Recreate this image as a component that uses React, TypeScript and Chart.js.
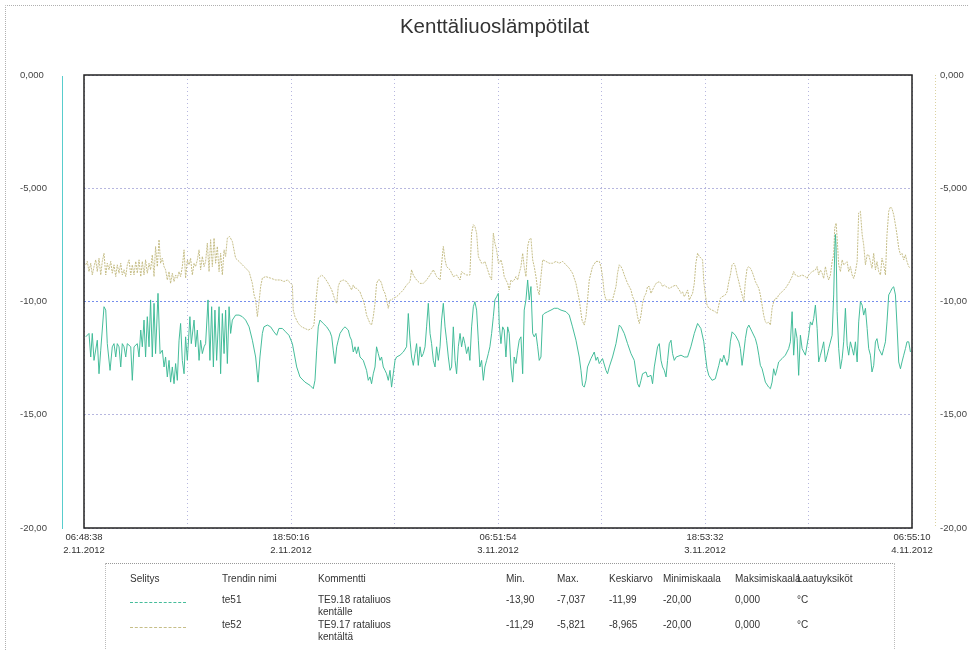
import React, { useEffect, useRef } from 'react';
import { Chart, registerables } from 'chart.js';

Chart.register(...registerables);

const chartTitle = 'Kenttäliuoslämpötilat';

// x axis: hours since 06:48:38 2.11.2012
const xMaxHours = 48;
const xGridHours = [0, 6, 12, 18, 24, 30, 36, 42, 48];
const xLabelHours = [0, 12, 24, 36, 48];
const xTickLabels = [
  ['06:48:38', '2.11.2012'],
  ['18:50:16', '2.11.2012'],
  ['06:51:54', '3.11.2012'],
  ['18:53:32', '3.11.2012'],
  ['06:55:10', '4.11.2012'],
];

const yTickValues = [0, -5, -10, -15, -20];
const yTickLabels = ['0,000', '-5,000', '-10,00', '-15,00', '-20,00'];

// te51 : [hour, °C]
const te51Points: [number, number][] = [
  [0.10, -11.56], [0.29, -11.41], [0.39, -12.45], [0.48, -11.41], [0.58, -12.60], [0.77, -11.71], [0.87, -13.19], [0.97, -12.15],
  [1.16, -10.23], [1.26, -10.38], [1.35, -11.86], [1.51, -13.04], [1.64, -12.00], [1.74, -11.86], [1.84, -12.45], [1.93, -11.86],
  [2.03, -12.00], [2.13, -12.89], [2.22, -11.86], [2.32, -12.00], [2.42, -12.45], [2.51, -11.86], [2.71, -12.00], [2.80, -13.48],
  [2.90, -12.00], [3.09, -11.86], [3.19, -12.45], [3.29, -11.26], [3.38, -12.00], [3.48, -10.82], [3.57, -12.45], [3.67, -10.67],
  [3.77, -12.00], [3.86, -9.93], [3.96, -12.45], [4.06, -10.08], [4.15, -12.30], [4.29, -9.64], [4.41, -12.30], [4.54, -12.15],
  [4.64, -12.89], [4.73, -12.45], [4.83, -13.33], [4.93, -12.60], [5.02, -13.56], [5.12, -12.89], [5.22, -13.63], [5.31, -12.74],
  [5.41, -13.48], [5.51, -11.71], [5.60, -10.97], [5.70, -12.60], [5.80, -13.19], [5.89, -11.56], [5.99, -12.60], [6.14, -10.67],
  [6.22, -11.86], [6.38, -10.82], [6.47, -12.00], [6.57, -11.26], [6.67, -12.60], [6.76, -11.71], [6.86, -12.30], [6.96, -12.00],
  [7.05, -11.86], [7.19, -9.93], [7.30, -12.60], [7.40, -10.23], [7.50, -12.89], [7.59, -10.38], [7.69, -12.60], [7.83, -10.23],
  [7.92, -13.19], [8.02, -10.53], [8.12, -12.30], [8.21, -10.38], [8.31, -12.74], [8.41, -10.23], [8.50, -11.41], [8.60, -10.82],
  [8.79, -10.60], [8.99, -10.60], [9.18, -10.67], [9.37, -10.82], [9.57, -11.12], [9.76, -11.71], [9.95, -12.45], [10.09, -13.56],
  [10.20, -12.45], [10.34, -11.41], [10.43, -11.12], [10.63, -11.04], [10.82, -11.12], [11.01, -11.34], [11.17, -11.49], [11.30, -11.19],
  [11.50, -11.19], [11.69, -11.34], [11.88, -11.49], [12.08, -11.86],
  [12.33, -12.89], [12.52, -13.33], [12.81, -13.56], [13.10, -13.70], [13.29, -13.85], [13.39, -13.48], [13.49, -12.15], [13.58, -11.12],
  [13.68, -10.82], [13.87, -10.97], [14.07, -11.12], [14.26, -11.34], [14.36, -11.56], [14.45, -12.15], [14.55, -12.74], [14.65, -12.00],
  [14.74, -11.71], [14.84, -11.41], [15.03, -11.19], [15.13, -11.12], [15.32, -11.26], [15.42, -11.56], [15.51, -11.71], [15.61, -12.23],
  [15.71, -12.00], [15.80, -12.30], [15.90, -12.00], [16.00, -12.45], [16.19, -12.60], [16.38, -13.04], [16.48, -13.48], [16.58, -13.33],
  [16.67, -13.63], [16.77, -13.19], [16.87, -12.89], [16.96, -12.00], [17.06, -12.30], [17.16, -12.60], [17.25, -12.45], [17.35, -12.89],
  [17.45, -13.04], [17.54, -13.19], [17.64, -13.48], [17.74, -13.04], [17.83, -13.78], [17.93, -13.19], [18.03, -12.60], [18.12, -12.45],
  [18.32, -12.37], [18.51, -12.23], [18.70, -12.00], [18.80, -10.53], [18.90, -11.71], [18.99, -12.45], [19.09, -12.82], [19.19, -12.30],
  [19.28, -11.86], [19.38, -12.82], [19.48, -12.00], [19.57, -12.45], [19.67, -12.30], [19.77, -12.00], [19.86, -11.12], [19.96, -10.08],
  [20.06, -11.41], [20.15, -11.86], [20.25, -12.60], [20.35, -12.89], [20.44, -12.00], [20.54, -12.60], [20.64, -12.00], [20.73, -10.82],
  [20.83, -10.08], [20.93, -11.12], [21.02, -11.71], [21.12, -12.45], [21.22, -13.04], [21.31, -12.89], [21.41, -11.12], [21.51, -12.60],
  [21.60, -13.19], [21.70, -12.00], [21.80, -11.41], [21.89, -12.00], [21.99, -11.56], [22.08, -11.86], [22.18, -12.30], [22.28, -12.00],
  [22.37, -12.60], [22.47, -11.12], [22.57, -10.23], [22.66, -10.01], [22.76, -10.38], [22.86, -11.71], [22.95, -12.89], [23.05, -12.60],
  [23.15, -13.48], [23.24, -12.89], [23.34, -12.60], [23.44, -12.30], [23.53, -12.00], [23.63, -11.41], [23.73, -10.67], [23.82, -9.93],
  [23.92, -9.79], [24.02, -9.64],
  [24.07, -10.97], [24.17, -11.86], [24.27, -11.12], [24.36, -11.26], [24.46, -12.45], [24.56, -11.12], [24.65, -11.41], [24.75, -12.89],
  [24.85, -13.56], [24.94, -12.45], [25.04, -12.74], [25.14, -12.15], [25.23, -11.71], [25.33, -11.56], [25.43, -13.19], [25.52, -10.38],
  [25.62, -9.93], [25.72, -9.05], [25.81, -9.93], [25.91, -9.34], [26.01, -11.41], [26.10, -11.56], [26.20, -11.41], [26.30, -12.00],
  [26.39, -12.60], [26.49, -12.45], [26.59, -10.60], [26.68, -10.53], [26.88, -10.45], [27.07, -10.38], [27.26, -10.30], [27.45, -10.30],
  [27.65, -10.38], [27.94, -10.45], [28.13, -10.60], [28.32, -11.12], [28.52, -11.71], [28.71, -12.45], [28.81, -13.04], [28.90, -13.70],
  [29.00, -13.78], [29.10, -13.48], [29.19, -12.89], [29.39, -12.52], [29.58, -12.23], [29.68, -12.60], [29.77, -12.45], [29.87, -12.74],
  [30.06, -12.52], [30.26, -13.04], [30.35, -13.19], [30.45, -12.89], [30.64, -12.45], [30.84, -11.86], [31.03, -11.04], [31.13, -11.12],
  [31.32, -11.41], [31.51, -11.86], [31.71, -12.30], [31.90, -12.60], [32.09, -13.63], [32.19, -13.78], [32.29, -13.48], [32.38, -13.19],
  [32.58, -13.11], [32.67, -13.33], [32.87, -13.26], [32.96, -13.63], [33.06, -12.89], [33.25, -12.00], [33.35, -11.86], [33.45, -12.60],
  [33.54, -12.89], [33.64, -13.04], [33.74, -13.33], [33.83, -12.60], [33.93, -11.86], [34.03, -11.71], [34.12, -12.30], [34.22, -12.60],
  [34.33, -12.45], [34.61, -12.37], [34.80, -12.45], [34.99, -12.45], [35.18, -12.00], [35.38, -11.41], [35.57, -10.97], [35.76, -11.19],
  [35.93, -11.78], [36.02, -12.37], [36.12, -12.97], [36.22, -13.26], [36.41, -13.48], [36.60, -13.41], [36.70, -13.11], [36.80, -12.82],
  [36.89, -12.52], [36.99, -12.67], [37.09, -12.37], [37.18, -12.59], [37.28, -12.82], [37.38, -12.52], [37.47, -11.78], [37.57, -11.34],
  [37.76, -11.49], [37.96, -11.78], [38.05, -12.08], [38.15, -12.82], [38.25, -12.23], [38.34, -11.64], [38.44, -11.19], [38.54, -11.04],
  [38.73, -11.34], [38.92, -11.64], [39.02, -11.93], [39.12, -12.37], [39.21, -12.82], [39.31, -12.97], [39.50, -13.56], [39.69, -13.78],
  [39.79, -13.85], [39.89, -13.56], [39.98, -12.97], [40.08, -13.26], [40.18, -12.97], [40.27, -12.67], [40.47, -12.52], [40.66, -12.37],
  [40.85, -12.08], [40.95, -11.78], [41.05, -10.45], [41.14, -12.37], [41.24, -11.19], [41.34, -11.64], [41.43, -13.26], [41.53, -11.49],
  [41.63, -12.08], [41.82, -12.37], [42.01, -11.49], [42.11, -10.90], [42.21, -11.04], [42.30, -10.75], [42.40, -10.16], [42.50, -11.19],
  [42.59, -12.67], [42.69, -12.37], [42.79, -12.08], [42.88, -11.78], [42.98, -12.67], [43.08, -12.37], [43.17, -12.08], [43.37, -11.49],
  [43.46, -9.71], [43.52, -7.80], [43.56, -7.04], [43.60, -7.60], [43.66, -10.45], [43.75, -12.08], [43.85, -12.97], [43.95, -12.52],
  [44.04, -11.78], [44.14, -10.30], [44.24, -11.93], [44.33, -12.37], [44.43, -11.78], [44.53, -12.08], [44.62, -12.37], [44.72, -11.78],
  [44.82, -12.67], [44.91, -10.90], [45.01, -10.01], [45.11, -10.16], [45.20, -10.60], [45.30, -10.30], [45.40, -11.19], [45.49, -12.08],
  [45.59, -12.37], [45.68, -13.11], [45.78, -12.82], [45.88, -11.78], [45.97, -11.64], [46.07, -12.08], [46.26, -12.37], [46.36, -12.08],
  [46.46, -11.78], [46.55, -10.90], [46.65, -9.71], [46.75, -9.57], [46.84, -9.42], [46.94, -9.35], [47.04, -9.71], [47.13, -11.04],
  [47.23, -12.67], [47.33, -12.97], [47.42, -12.67], [47.52, -12.37], [47.62, -12.08], [47.71, -11.78], [47.81, -11.78], [47.91, -12.23],
];

// te52 : [hour, °C]
const te52Points: [number, number][] = [
  [0.10, -8.38], [0.19, -8.23], [0.29, -8.68], [0.39, -8.31], [0.48, -8.83], [0.58, -8.46], [0.68, -8.16], [0.77, -8.68],
  [0.87, -8.09], [0.97, -8.83], [1.06, -8.23], [1.16, -7.87], [1.26, -8.83], [1.35, -8.31], [1.45, -8.60], [1.55, -8.23],
  [1.64, -8.75], [1.74, -8.38], [1.84, -8.90], [1.93, -8.38], [2.03, -8.75], [2.13, -8.31], [2.22, -8.83], [2.32, -8.60],
  [2.42, -8.90], [2.51, -8.38], [2.61, -8.16], [2.71, -8.83], [2.80, -8.38], [2.90, -8.83], [3.00, -8.23], [3.09, -8.75],
  [3.19, -8.16], [3.29, -8.90], [3.38, -8.23], [3.48, -8.83], [3.57, -8.16], [3.67, -8.75], [3.77, -8.31], [3.86, -8.60],
  [3.96, -7.94], [4.06, -8.90], [4.15, -7.57], [4.25, -8.46], [4.35, -7.27], [4.44, -8.31], [4.54, -8.09], [4.64, -8.46],
  [4.73, -8.60], [4.83, -9.05], [4.93, -8.68], [5.02, -9.20], [5.12, -8.75], [5.22, -9.12], [5.31, -8.83], [5.41, -8.97],
  [5.51, -8.68], [5.60, -8.90], [5.70, -8.46], [5.80, -7.72], [5.89, -8.97], [5.99, -8.16], [6.09, -8.38], [6.18, -8.09],
  [6.28, -8.83], [6.38, -8.31], [6.47, -8.46], [6.57, -8.16], [6.67, -7.72], [6.76, -8.60], [6.86, -8.01], [6.96, -8.46],
  [7.05, -8.23], [7.15, -7.42], [7.25, -8.68], [7.34, -7.27], [7.44, -8.46], [7.54, -7.20], [7.63, -8.31], [7.73, -7.57],
  [7.83, -8.68], [7.92, -7.87], [8.02, -8.83], [8.12, -7.72], [8.21, -8.01], [8.31, -7.20], [8.44, -7.13], [8.60, -7.35],
  [8.79, -8.09], [8.99, -8.23], [9.28, -8.46], [9.57, -8.68], [9.76, -9.20], [9.86, -9.71], [9.95, -9.93], [10.05, -10.67],
  [10.14, -10.08], [10.24, -9.34], [10.34, -8.97], [10.53, -8.90], [10.82, -8.97], [11.11, -9.05], [11.40, -9.05], [11.59, -9.12],
  [11.79, -9.05], [12.08, -9.27],
  [12.13, -10.38], [12.23, -10.67], [12.42, -10.97], [12.62, -11.12], [12.81, -11.19], [13.00, -11.26], [13.20, -11.19], [13.33, -11.04],
  [13.45, -9.93], [13.58, -8.97], [13.78, -8.83], [13.97, -8.97], [14.16, -9.20], [14.36, -9.49], [14.55, -9.93], [14.65, -10.08],
  [14.74, -9.34], [14.84, -9.12], [15.03, -9.05], [15.23, -9.12], [15.42, -9.34], [15.51, -9.49], [15.61, -9.27], [15.71, -9.42],
  [15.80, -9.42], [16.00, -9.57], [16.10, -9.79], [16.19, -9.93], [16.29, -10.23], [16.38, -10.60], [16.58, -10.97], [16.67, -11.04],
  [16.77, -10.67], [16.87, -10.08], [16.96, -9.20], [17.06, -9.05], [17.16, -9.05], [17.25, -9.20], [17.35, -9.49], [17.45, -9.64],
  [17.54, -9.93], [17.64, -10.30], [17.74, -9.93], [17.83, -9.93], [17.93, -9.86], [18.12, -9.79], [18.32, -9.64], [18.51, -9.49],
  [18.70, -9.27], [18.90, -9.12], [18.99, -8.60], [19.09, -8.83], [19.28, -9.05], [19.48, -9.20], [19.67, -9.20], [19.86, -9.05],
  [20.06, -8.83], [20.25, -8.60], [20.44, -8.90], [20.64, -9.05], [20.83, -7.57], [20.93, -8.16], [21.02, -8.46], [21.22, -8.60],
  [21.41, -8.90], [21.60, -8.83], [21.80, -9.05], [21.89, -8.68], [21.99, -8.75], [22.18, -8.83], [22.37, -8.83], [22.47, -6.98],
  [22.57, -6.61], [22.66, -6.68], [22.76, -6.98], [22.86, -8.01], [22.95, -8.16], [23.05, -8.31], [23.15, -8.31], [23.24, -8.23],
  [23.34, -8.46], [23.53, -8.90], [23.63, -9.05], [23.73, -6.98], [23.82, -7.42], [23.92, -7.72], [24.02, -8.31],
  [24.07, -8.31], [24.17, -8.16], [24.27, -8.46], [24.36, -8.90], [24.46, -9.05], [24.56, -9.20], [24.65, -9.49], [24.75, -9.05],
  [24.85, -9.12], [24.94, -9.05], [25.04, -8.90], [25.14, -9.05], [25.23, -8.75], [25.33, -8.46], [25.43, -7.87], [25.52, -8.46],
  [25.62, -8.90], [25.72, -7.57], [25.81, -7.27], [25.91, -7.20], [26.01, -8.16], [26.10, -8.46], [26.20, -8.90], [26.30, -9.49],
  [26.39, -9.71], [26.49, -8.90], [26.59, -8.16], [26.78, -8.23], [26.97, -8.31], [27.17, -8.31], [27.36, -8.23], [27.55, -8.31],
  [27.75, -8.23], [27.94, -8.38], [28.13, -8.53], [28.32, -8.75], [28.52, -9.20], [28.71, -9.93], [28.87, -10.82], [29.00, -11.04],
  [29.10, -10.67], [29.19, -9.93], [29.29, -9.05], [29.48, -8.46], [29.68, -8.23], [29.87, -8.23], [29.97, -8.46], [30.06, -8.90],
  [30.16, -9.64], [30.26, -9.93], [30.45, -9.93], [30.64, -9.93], [30.84, -9.34], [30.93, -8.75], [31.03, -8.38], [31.13, -8.46],
  [31.22, -8.60], [31.32, -8.83], [31.51, -9.20], [31.71, -9.49], [31.80, -9.79], [31.90, -9.93], [32.00, -10.23], [32.09, -10.67],
  [32.19, -10.97], [32.29, -10.60], [32.38, -10.08], [32.48, -9.79], [32.58, -9.64], [32.67, -9.34], [32.77, -9.34], [32.87, -9.64],
  [32.96, -9.49], [33.06, -9.34], [33.16, -9.20], [33.35, -9.12], [33.45, -9.20], [33.54, -9.34], [33.64, -9.27], [33.74, -9.34],
  [33.93, -9.42], [34.12, -9.34], [34.31, -9.27], [34.51, -9.49], [34.61, -9.64], [34.70, -9.57], [34.80, -9.79], [34.90, -9.64],
  [34.99, -9.49], [35.09, -9.93], [35.18, -9.79], [35.28, -9.64], [35.38, -9.20], [35.47, -8.31], [35.57, -7.87], [35.67, -8.01],
  [35.86, -8.16], [35.93, -9.12], [36.02, -9.71], [36.12, -10.16], [36.22, -10.30], [36.41, -10.38], [36.60, -10.45], [36.70, -10.53],
  [36.80, -10.16], [36.89, -9.86], [36.99, -9.79], [37.18, -9.71], [37.28, -9.57], [37.38, -9.12], [37.47, -8.83], [37.57, -8.38],
  [37.67, -8.31], [37.76, -8.46], [37.86, -8.83], [37.96, -9.12], [38.05, -9.42], [38.15, -9.71], [38.25, -10.01], [38.34, -9.12],
  [38.44, -8.53], [38.54, -8.46], [38.63, -8.53], [38.73, -8.68], [38.83, -8.90], [38.92, -9.12], [39.02, -9.27], [39.12, -9.42],
  [39.21, -9.71], [39.31, -10.16], [39.40, -10.60], [39.50, -10.90], [39.60, -10.97], [39.69, -10.90], [39.79, -11.04], [39.89, -10.30],
  [39.98, -10.01], [40.08, -9.86], [40.18, -9.86], [40.27, -9.71], [40.47, -9.57], [40.66, -9.42], [40.85, -9.20], [41.05, -8.90],
  [41.14, -8.68], [41.24, -8.83], [41.43, -8.90], [41.63, -8.83], [41.82, -8.90], [41.92, -8.98], [42.01, -8.83], [42.11, -8.75],
  [42.21, -8.68], [42.40, -8.61], [42.50, -8.46], [42.59, -8.83], [42.69, -8.61], [42.79, -8.75], [42.88, -8.98], [42.98, -8.46],
  [43.08, -8.83], [43.17, -9.05], [43.27, -8.83], [43.37, -8.24], [43.46, -7.94], [43.52, -6.76], [43.60, -6.54], [43.66, -7.20],
  [43.75, -8.38], [43.85, -8.68], [43.95, -8.16], [44.04, -8.38], [44.14, -8.31], [44.24, -8.24], [44.33, -8.68], [44.43, -8.46],
  [44.53, -8.83], [44.62, -8.98], [44.72, -8.68], [44.82, -8.24], [44.91, -6.09], [45.01, -6.02], [45.11, -7.05], [45.20, -7.50],
  [45.30, -8.38], [45.40, -7.94], [45.49, -7.94], [45.59, -8.24], [45.68, -8.53], [45.78, -7.87], [45.88, -8.61], [45.97, -8.24],
  [46.07, -8.68], [46.17, -8.83], [46.26, -8.09], [46.36, -8.38], [46.46, -8.83], [46.55, -7.05], [46.65, -6.02], [46.75, -5.82],
  [46.84, -5.90], [46.94, -6.17], [47.04, -6.61], [47.13, -7.05], [47.23, -7.64], [47.33, -7.94], [47.42, -7.87], [47.52, -8.16],
  [47.62, -7.94], [47.71, -8.24], [47.81, -8.46], [47.91, -8.53],
];

// legend table
const legendHeaders = ['Selitys', 'Trendin nimi', 'Kommentti', 'Min.', 'Max.', 'Keskiarvo', 'Minimiskaala', 'Maksimiskaala', 'Laatuyksiköt'];
const seriesNames = ['te51', 'te52'];
const seriesComments = [['TE9.18 rataliuos', 'kentälle'], ['TE9.17 rataliuos', 'kentältä']];
const seriesMin = ['-13,90', '-11,29'];
const seriesMax = ['-7,037', '-5,821'];
const seriesAvg = ['-11,99', '-8,965'];
const seriesScaleMin = ['-20,00', '-20,00'];
const seriesScaleMax = ['0,000', '0,000'];
const seriesUnits = ['°C', '°C'];

const TEAL = 'rgba(60,185,150,0.95)';
const SAND = 'rgba(195,186,130,0.95)';
const FONT = '"Liberation Sans", Arial, sans-serif';
const GRID = 'rgba(175,175,220,0.9)';
const GRID_MID = 'rgba(110,135,235,0.95)';

const colX = [130, 222, 318, 506, 557, 609, 663, 735, 797];

const framePlugin = {
  id: 'frameExtras',
  afterDraw(chart: any) {
    const { ctx, chartArea } = chart;
    const { left, right, top, bottom } = chartArea;
    ctx.save();
    // page border
    ctx.strokeStyle = '#b0b0b0';
    ctx.lineWidth = 1;
    ctx.setLineDash([1, 1]);
    ctx.beginPath();
    ctx.moveTo(5.5, 650);
    ctx.lineTo(5.5, 5.5);
    ctx.lineTo(969, 5.5);
    ctx.stroke();
    // left coloured axis line
    ctx.setLineDash([]);
    ctx.strokeStyle = 'rgba(70,200,200,0.9)';
    ctx.beginPath();
    ctx.moveTo(62.5, top + 1);
    ctx.lineTo(62.5, bottom + 1);
    ctx.stroke();
    // right coloured axis line
    ctx.strokeStyle = 'rgba(215,205,150,0.9)';
    ctx.setLineDash([1, 2]);
    ctx.beginPath();
    ctx.moveTo(935.5, top);
    ctx.lineTo(935.5, bottom);
    ctx.stroke();
    // plot frame
    ctx.setLineDash([]);
    ctx.strokeStyle = '#222';
    ctx.lineWidth = 1.5;
    ctx.strokeRect(left, top, right - left, bottom - top);
    ctx.restore();
  },
};

export default function App() {
  const canvasRef = useRef<HTMLCanvasElement | null>(null);

  useEffect(() => {
    if (!canvasRef.current) return;
    Chart.defaults.font.family = FONT;
    const chart = new Chart(canvasRef.current, {
      type: 'line',
      data: {
        datasets: [
          {
            label: 'te51',
            data: te51Points.map(([x, y]) => ({ x, y })),
            borderColor: TEAL,
            borderWidth: 1,
            pointRadius: 0,
            tension: 0,
            yAxisID: 'y',
          },
          {
            label: 'te52',
            data: te52Points.map(([x, y]) => ({ x, y })),
            borderColor: SAND,
            borderWidth: 1,
            borderDash: [2, 1],
            pointRadius: 0,
            tension: 0,
            yAxisID: 'y',
          },
        ],
      },
      options: {
        animation: false,
        responsive: false,
        maintainAspectRatio: false,
        layout: { padding: { left: 20, right: 0, top: 0, bottom: 0 } },
        plugins: {
          legend: { display: false },
          tooltip: { enabled: false },
          title: {
            display: true,
            text: chartTitle,
            color: '#333',
            font: { family: FONT, size: 20.5, weight: 'normal', lineHeight: 1.2 },
            padding: { top: 15, bottom: 35.4 },
          },
        },
        scales: {
          x: {
            type: 'linear',
            min: 0,
            max: xMaxHours,
            afterBuildTicks: (scale: any) => {
              scale.ticks = xGridHours.map((v) => ({ value: v }));
            },
            afterFit: (scale: any) => {
              scale.height = 122;
            },
            ticks: {
              autoSkip: false,
              maxRotation: 0,
              minRotation: 0,
              padding: 3,
              color: '#333',
              font: { size: 9.5, lineHeight: 1.35 },
              callback: (v: any) => {
                const i = xLabelHours.indexOf(Number(v));
                return i >= 0 ? xTickLabels[i] : '';
              },
            },
            grid: { color: GRID, drawTicks: false, lineWidth: 1 },
            border: { display: false, dash: [1, 3] },
          },
          y: {
            position: 'left',
            min: -20,
            max: 0,
            afterBuildTicks: (scale: any) => {
              scale.ticks = yTickValues.map((v) => ({ value: v }));
            },
            afterFit: (scale: any) => {
              scale.width = 64;
            },
            ticks: {
              crossAlign: 'far',
              color: '#444',
              font: { size: 9.5 },
              callback: (v: any) => {
                const i = yTickValues.indexOf(Number(v));
                return i >= 0 ? yTickLabels[i] : '';
              },
            },
            grid: {
              drawTicks: false,
              lineWidth: 1,
              color: (c: any) => (c.tick && c.tick.value === -10 ? GRID_MID : GRID),
            },
            border: { display: false, dash: [2, 2] },
          },
          y2: {
            position: 'right',
            min: -20,
            max: 0,
            afterBuildTicks: (scale: any) => {
              scale.ticks = yTickValues.map((v) => ({ value: v }));
            },
            afterFit: (scale: any) => {
              scale.width = 57;
            },
            ticks: {
              padding: 28,
              color: '#444',
              font: { size: 9.5 },
              callback: (v: any) => {
                const i = yTickValues.indexOf(Number(v));
                return i >= 0 ? yTickLabels[i] : '';
              },
            },
            grid: { display: false, drawTicks: false },
            border: { display: false },
          },
        },
      } as any,
      plugins: [framePlugin],
    });
    return () => chart.destroy();
  }, []);

  const textStyle = (x: number, y: number): React.CSSProperties => ({
    position: 'absolute',
    left: x,
    top: y,
    fontFamily: FONT,
    fontSize: 10,
    color: '#333',
    whiteSpace: 'nowrap',
    lineHeight: '12px',
  });

  const rowTop = [594, 619];
  const sampleColors = [TEAL, SAND];

  return (
    <div style={{ position: 'absolute', left: 0, top: 0, width: 969, height: 650, background: '#fff', overflow: 'hidden' }}>
      <canvas ref={canvasRef} width={969} height={650} style={{ position: 'absolute', left: 0, top: 0, width: 969, height: 650 }} />
      <div
        style={{
          position: 'absolute',
          left: 105,
          top: 563,
          width: 790,
          height: 100,
          borderTop: '1px dotted #999',
          borderLeft: '1px dotted #bbb',
          borderRight: '1px dotted #bbb',
          boxSizing: 'border-box',
        }}
      />
      {legendHeaders.map((h, i) => (
        <div key={'h' + i} style={textStyle(colX[i], 573)}>{h}</div>
      ))}
      {seriesNames.map((name, r) => (
        <React.Fragment key={'r' + r}>
          <div
            style={{
              position: 'absolute',
              left: colX[0],
              top: rowTop[r] + 8,
              width: 56,
              height: 0,
              borderTop: '1px dashed ' + sampleColors[r],
            }}
          />
          <div style={textStyle(colX[1], rowTop[r])}>{name}</div>
          <div style={textStyle(colX[2], rowTop[r])}>{seriesComments[r][0]}</div>
          <div style={textStyle(colX[2], rowTop[r] + 12)}>{seriesComments[r][1]}</div>
          <div style={textStyle(colX[3], rowTop[r])}>{seriesMin[r]}</div>
          <div style={textStyle(colX[4], rowTop[r])}>{seriesMax[r]}</div>
          <div style={textStyle(colX[5], rowTop[r])}>{seriesAvg[r]}</div>
          <div style={textStyle(colX[6], rowTop[r])}>{seriesScaleMin[r]}</div>
          <div style={textStyle(colX[7], rowTop[r])}>{seriesScaleMax[r]}</div>
          <div style={textStyle(colX[8], rowTop[r])}>{seriesUnits[r]}</div>
        </React.Fragment>
      ))}
    </div>
  );
}
